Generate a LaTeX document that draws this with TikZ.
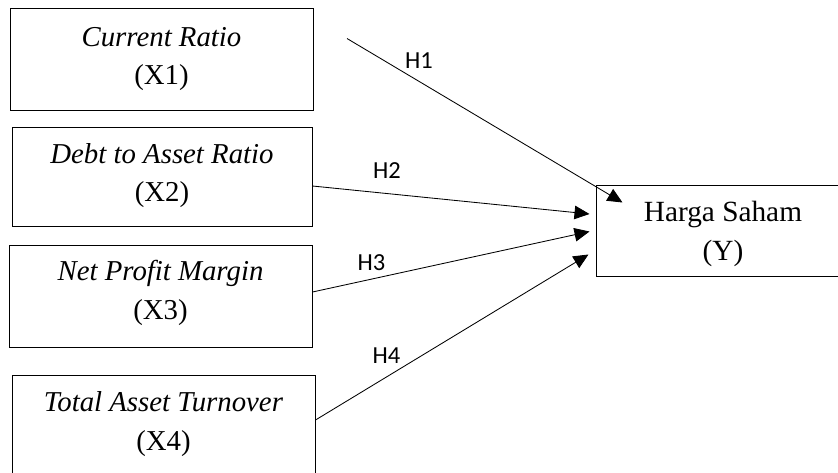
\documentclass[tikz,border=0pt]{standalone}
\usepackage{fontspec}
\setmainfont{Liberation Serif}
\newfontfamily\hypfont{Carlito}
\usetikzlibrary{arrows.meta}

\tikzset{
  varbox/.style={draw=black, line width=1pt, inner sep=0pt, fill=white},
  vartext/.style={anchor=base, inner sep=0pt, font=\fontsize{28.8}{38.5}\selectfont},
  hyplabel/.style={anchor=base, inner sep=0pt, font=\hypfont\fontsize{24.5}{28}\selectfont},
  link/.style={line width=0.85pt, -{Triangle[length=15pt,width=13.5pt]}},
}

\begin{document}
\begin{tikzpicture}[x=1pt, y=-1pt]
  \useasboundingbox (0,0) rectangle (838,472);
  \clip (0,0) rectangle (838,472);
  \fill[white] (0,0) rectangle (838,472);

  % independent variables
  \node[varbox, minimum width=303pt, minimum height=102pt] (x1) at (161.5,59) {};
  \node[varbox, minimum width=300pt, minimum height=99pt]  (x2) at (162,176.5) {};
  \node[varbox, minimum width=303pt, minimum height=102pt] (x3) at (160.5,296) {};
  \node[varbox, minimum width=303pt, minimum height=103pt] (x4) at (163.5,426.5) {};

  % dependent variable (runs past the right edge)
  \node[varbox, minimum width=254pt, minimum height=91pt] (y) at (723,230.5) {};

  % box texts
  \node[vartext] (x1a) at (161.5,46.7) {\textit{Current Ratio}};
  \node[vartext] (x1b) at (161.5,84.5) {(X1)};
  \node[vartext] (x2a) at (162,163.5) {\textit{Debt to Asset Ratio}};
  \node[vartext] (x2b) at (162,201.8) {(X2)};
  \node[vartext] (x3a) at (160.5,280.5) {\textit{Net Profit Margin}};
  \node[vartext] (x3b) at (160.5,319) {(X3)};
  \node[vartext] (x4a) at (163.5,411.3) {\textit{Total Asset Turnover}};
  \node[vartext] (x4b) at (163.5,450) {(X4)};
  \node[vartext, font=\fontsize{29.3}{38.5}\selectfont] (ya) at (723,221.7) {Harga Saham};
  \node[vartext, font=\fontsize{29.3}{38.5}\selectfont] (yb) at (723,260) {(Y)};

  % connector end points
  \coordinate (s1) at (347,38.5);
  \coordinate (s2) at (x2.east |- 0,186);
  \coordinate (s3) at (x3.east |- 0,292);
  \coordinate (s4) at (x4.east |- 0,420);
  \coordinate (t1) at (622.5,202.5);
  \coordinate (t2) at (589.5,214);
  \coordinate (t3) at (589.5,231.5);
  \coordinate (t4) at (588.5,254.5);

  % hypotheses
  \draw[link] (s1) -- (t1);
  \draw[link] (s2) -- (t2);
  \draw[link] (s3) -- (t3);
  \draw[link] (s4) -- (t4);

  \node[hyplabel] (h1) at (419,68) {H1};
  \node[hyplabel] (h2) at (387,178) {H2};
  \node[hyplabel] (h3) at (371.5,270) {H3};
  \node[hyplabel] (h4) at (386.5,363) {H4};
\end{tikzpicture}
\end{document}
